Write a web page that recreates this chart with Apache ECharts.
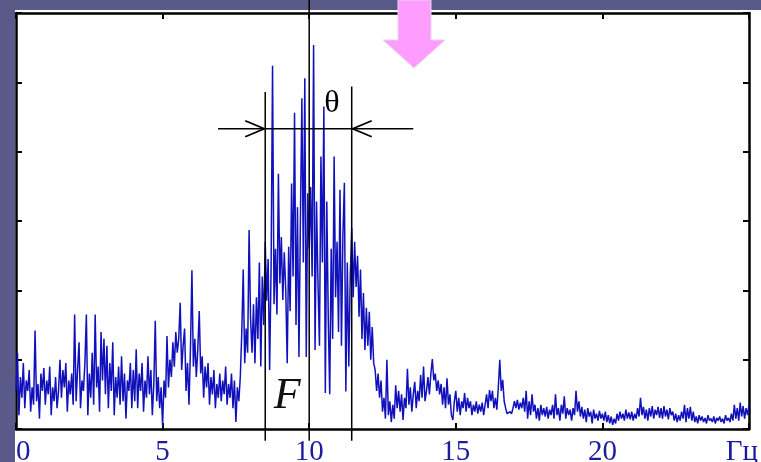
<!DOCTYPE html>
<html>
<head>
<meta charset="utf-8">
<script src="https://cdn.jsdelivr.net/npm/echarts@6/dist/echarts.min.js"></script>
<style>
html, body { margin: 0; padding: 0; background: #5a5a8a; overflow: hidden; }
#slide { position: relative; width: 761px; height: 462px; }
#panel { position: absolute; left: 15px; top: 10px; width: 746px; height: 452px; background: #ffffff; }
#chart { position: absolute; left: 0; top: 0; width: 761px; height: 462px; }
</style>
</head>
<body>
<div id="slide">
  <div id="panel"></div>
  <div id="chart"></div>
</div>
<script>
// spectrum, one value every 0.05 Hz from 0 to 25 Hz (one row = 1 Hz)
const freqStep = 0.05;
const amplitude = [
  0.55, 1.10, 0.20, 0.75, 0.45, 0.95, 0.30, 0.70, 0.55, 0.85, 0.25, 0.60, 0.35, 1.42, 0.40, 0.65, 0.15, 0.80, 0.55, 0.88,
  0.35, 0.70, 0.50, 0.90, 0.20, 0.60, 0.40, 0.75, 0.30, 0.55, 1.00, 0.45, 0.85, 0.60, 0.95, 0.25, 0.70, 0.50, 0.80, 0.35,
  1.65, 0.40, 0.85, 1.25, 0.30, 0.70, 0.55, 0.95, 1.65, 0.20, 0.80, 0.45, 1.10, 0.35, 1.65, 0.60, 0.90, 0.25, 1.40, 0.70,
  1.30, 0.50, 1.20, 0.30, 0.95, 0.55, 1.25, 0.20, 0.75, 0.45, 0.90, 0.35, 1.05, 0.40, 0.80, 0.15, 0.70, 0.55, 0.95, 0.30,
  0.85, 0.40, 1.15, 0.30, 0.80, 0.55, 0.95, 0.25, 0.70, 0.45, 1.05, 0.50, 0.85, 0.20, 0.65, 1.56, 0.40, 0.75, 0.30, 0.60,
  0.05, 0.70, 0.45, 1.34, 0.60, 1.00, 0.75, 1.25, 0.90, 1.40, 1.10, 1.30, 1.82, 0.85, 1.20, 1.45, 0.55, 0.95, 0.35, 1.15,
  2.29, 0.90, 1.30, 0.75, 1.15, 1.70, 0.80, 1.05, 0.45, 0.90, 0.60, 0.95, 0.35, 0.75, 0.50, 0.85, 0.30, 0.65, 0.45, 0.80,
  0.40, 0.70, 0.50, 0.90, 0.35, 0.65, 0.45, 0.80, 0.30, 0.70, 0.10, 0.60, 0.40, 0.75, 1.38, 2.30, 0.95, 1.45, 1.10, 2.87,
  1.60, 1.10, 1.80, 0.95, 1.90, 1.30, 2.40, 0.90, 2.20, 1.50, 2.70, 1.85, 2.45, 0.85, 2.30, 5.24, 1.80, 2.60, 1.65, 3.68,
  2.10, 2.77, 1.86, 2.55, 2.00, 0.95, 2.63, 1.70, 3.54, 2.20, 4.56, 1.50, 3.20, 1.04, 3.00, 4.77, 2.40, 5.06, 1.04, 3.40,
  2.60, 3.49, 2.20, 5.54, 1.14, 3.28, 2.10, 1.20, 3.93, 2.40, 4.65, 0.52, 3.28, 1.60, 0.50, 2.60, 1.30, 3.93, 1.90, 2.70,
  1.40, 3.45, 1.20, 2.80, 3.55, 0.54, 2.40, 0.90, 2.20, 2.90, 1.90, 2.70, 2.05, 2.50, 1.62, 2.30, 1.30, 1.96, 1.14, 1.75,
  1.20, 1.69, 1.00, 1.47, 0.95, 0.85, 0.55, 0.80, 0.45, 0.70, 0.25, 0.45, 0.15, 1.00, 0.20, 0.40, 0.10, 0.35, 0.15, 0.63,
  0.30, 0.55, 0.25, 0.50, 0.13, 0.45, 0.30, 0.87, 0.35, 0.60, 0.25, 0.50, 0.68, 0.30, 0.55, 0.40, 0.78, 0.45, 0.90, 0.40,
  0.55, 0.75, 0.50, 0.80, 1.01, 0.70, 0.80, 0.55, 0.70, 0.50, 0.65, 0.35, 0.60, 0.30, 0.73, 0.35, 0.50, 0.20, 0.13, 0.40,
  0.55, 0.25, 0.45, 0.20, 0.40, 0.30, 0.52, 0.25, 0.45, 0.30, 0.40, 0.20, 0.35, 0.25, 0.40, 0.22, 0.35, 0.25, 0.38, 0.20,
  0.35, 0.50, 0.30, 0.56, 0.40, 0.55, 0.30, 0.45, 0.28, 0.60, 1.00, 0.55, 0.71, 0.40, 0.30, 0.22, 0.20, 0.25, 0.22, 0.30,
  0.40, 0.30, 0.42, 0.28, 0.38, 0.30, 0.45, 0.25, 0.55, 0.15, 0.40, 0.20, 0.50, 0.25, 0.35, 0.15, 0.30, 0.12, 0.35, 0.20,
  0.30, 0.18, 0.32, 0.15, 0.28, 0.20, 0.35, 0.15, 0.50, 0.20, 0.30, 0.12, 0.35, 0.22, 0.47, 0.15, 0.30, 0.20, 0.28, 0.12,
  0.30, 0.20, 0.55, 0.25, 0.40, 0.18, 0.32, 0.15, 0.28, 0.10, 0.30, 0.18, 0.25, 0.08, 0.28, 0.15, 0.22, 0.12, 0.26, 0.15,
  0.22, 0.12, 0.25, 0.10, 0.20, 0.08, 0.18, 0.06, 0.15, 0.08, 0.22, 0.12, 0.25, 0.15, 0.22, 0.12, 0.28, 0.15, 0.24, 0.14,
  0.25, 0.12, 0.22, 0.15, 0.30, 0.18, 0.45, 0.20, 0.32, 0.15, 0.28, 0.12, 0.30, 0.18, 0.33, 0.15, 0.28, 0.20, 0.32, 0.16,
  0.30, 0.15, 0.33, 0.18, 0.28, 0.14, 0.30, 0.20, 0.25, 0.12, 0.22, 0.10, 0.20, 0.12, 0.25, 0.15, 0.35, 0.10, 0.30, 0.15,
  0.32, 0.12, 0.25, 0.10, 0.18, 0.08, 0.20, 0.12, 0.18, 0.10, 0.16, 0.08, 0.20, 0.12, 0.15, 0.10, 0.18, 0.08, 0.16, 0.12,
  0.18, 0.10, 0.15, 0.08, 0.20, 0.12, 0.16, 0.10, 0.22, 0.12, 0.35, 0.15, 0.30, 0.12, 0.38, 0.18, 0.33, 0.15, 0.30, 0.20,
  0.35
];

// axis ticks
const xTicks = [0, 5, 10, 15, 20];
const unitLabel = 'Гц';

// annotation: band edges F, centre line and width theta
const markerFreqs = [8.5, 10.0, 11.45];
const markerTops = [4.86, 6.25, 4.94];
const markerBottom = -0.17;
const arrowLevel = 4.33;
const arrowSpan = [6.89, 13.55];

var chart = echarts.init(document.getElementById('chart'));

var frame = { show: true, onZero: false, lineStyle: { color: '#000', width: 2.5 } };
var ticks = { show: true, inside: true, length: 6, lineStyle: { color: '#000', width: 2 } };

var option = {
  animation: false,
  backgroundColor: 'transparent',
  grid: { left: 16, right: 12, top: 13, bottom: 33, outerBoundsMode: 'none', containLabel: false },
  xAxis: [
    {
      type: 'value', min: 0, max: 25, interval: 5, position: 'bottom',
      axisLine: frame, axisTick: ticks, splitLine: { show: false },
      axisLabel: {
        margin: 9,
        alignMinLabel: 'left',
        fontFamily: 'Liberation Serif, DejaVu Serif, serif',
        fontSize: 29,
        color: '#1c1ca0',
        formatter: function (v) {
          if (v === 25) return '{u|' + unitLabel + '}';
          return xTicks.indexOf(v) >= 0 ? String(v) : '';
        },
        rich: {
          u: { fontFamily: 'Liberation Serif, DejaVu Serif, serif', fontSize: 29, color: '#1c1ca0', padding: [0, 14, 0, 0] }
        }
      }
    },
    {
      type: 'value', min: 0, max: 25, interval: 5, position: 'top',
      axisLine: frame, axisTick: ticks, axisLabel: { show: false }, splitLine: { show: false }
    }
  ],
  yAxis: [
    {
      type: 'value', min: 0, max: 6, interval: 1, position: 'left',
      axisLine: frame, axisTick: ticks, axisLabel: { show: false }, splitLine: { show: false }
    },
    {
      type: 'value', min: 0, max: 6, interval: 1, position: 'right',
      axisLine: frame, axisTick: ticks, axisLabel: { show: false }, splitLine: { show: false }
    }
  ],
  series: [
    {
      type: 'line',
      xAxisIndex: 0,
      yAxisIndex: 0,
      symbol: 'none',
      lineStyle: { color: '#1010bc', width: 1.5 },
      data: amplitude.map(function (v, i) { return [+(i * freqStep).toFixed(2), v]; })
    }
  ]
};
chart.setOption(option);

function px(f, v) {
  return chart.convertToPixel({ seriesIndex: 0 }, [f, v]);
}

var black = { stroke: '#000', lineWidth: 1.5 };
var elems = [];

markerFreqs.forEach(function (f, i) {
  var a = px(f, markerTops[i]);
  var b = px(f, markerBottom);
  elems.push({ type: 'line', shape: { x1: a[0], y1: a[1], x2: b[0], y2: b[1] }, style: black, z: 100 });
});

var l = px(arrowSpan[0], arrowLevel);
var r = px(arrowSpan[1], arrowLevel);
elems.push({ type: 'line', shape: { x1: l[0], y1: l[1], x2: r[0], y2: r[1] }, style: black, z: 100 });

var hl = px(markerFreqs[0], arrowLevel);
var hr = px(markerFreqs[2], arrowLevel);
elems.push({
  type: 'polyline',
  shape: { points: [[hl[0] - 20, hl[1] - 8], [hl[0] - 1, hl[1]], [hl[0] - 20, hl[1] + 8]] },
  style: { stroke: '#000', lineWidth: 1.8, fill: null }, z: 100
});
elems.push({
  type: 'polyline',
  shape: { points: [[hr[0] + 20, hr[1] - 8], [hr[0] + 1, hr[1]], [hr[0] + 20, hr[1] + 8]] },
  style: { stroke: '#000', lineWidth: 1.8, fill: null }, z: 100
});

var th = px((markerFreqs[1] + markerFreqs[2]) / 2 + 0.05, 4.7);
elems.push({
  type: 'text', x: th[0], y: th[1], z: 101,
  style: { text: 'θ', font: '32px "Liberation Serif", "DejaVu Serif", serif', fill: '#000', align: 'center', verticalAlign: 'middle' }
});
var fl = px((markerFreqs[0] + markerFreqs[1]) / 2, 0.47);
elems.push({
  type: 'text', x: fl[0], y: fl[1], z: 101,
  style: { text: 'F', font: 'italic 44px "Liberation Serif", "DejaVu Serif", serif', fill: '#111', align: 'center', verticalAlign: 'middle' }
});

// slide decoration: pink arrow pointing down
elems.push({
  type: 'polygon', z: 102,
  shape: { points: [[398, 0], [431, 0], [431, 40], [445, 40], [414, 68], [383, 40], [398, 40]] },
  style: { fill: '#ff9cff', stroke: '#e6d6ea', lineWidth: 1 }
});

chart.setOption({ graphic: elems });
</script>
</body>
</html>
